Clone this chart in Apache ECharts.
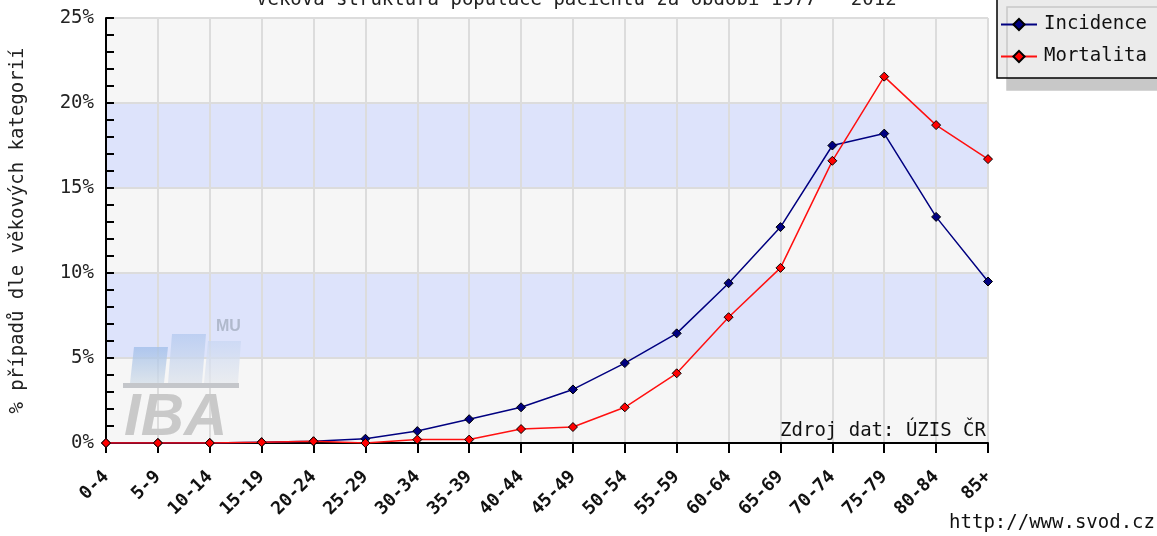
<!DOCTYPE html>
<html>
<head>
<meta charset="utf-8">
<script src="https://cdn.jsdelivr.net/npm/echarts@6/dist/echarts.min.js"></script>
<style>
html,body{margin:0;padding:0;background:#fff;}
#c{width:1157px;height:536px;}
</style>
</head>
<body>
<div id="c"></div>
<script>
const categories = ['0-4','5-9','10-14','15-19','20-24','25-29','30-34','35-39','40-44','45-49','50-54','55-59','60-64','65-69','70-74','75-79','80-84','85+'];
const incidence = [0, 0, 0, 0.05, 0.1, 0.25, 0.7, 1.4, 2.1, 3.15, 4.7, 6.45, 9.4, 12.7, 17.5, 18.2, 13.3, 9.5];
const mortalita = [0, 0, 0, 0.04, 0.1, 0, 0.2, 0.2, 0.82, 0.94, 2.1, 4.1, 7.4, 10.3, 16.6, 21.55, 18.7, 16.7];
const yTicks = [0, 5, 10, 15, 20, 25];

const FONT = '"DejaVu Sans Mono", "Liberation Mono", monospace';
const chart = echarts.init(document.getElementById('c'));
chart.setOption({
  backgroundColor: '#ffffff',
  animation: false,
  title: {
    text: 'Věková struktura populace pacientů za období 1977 - 2012',
    left: 256, top: -9,
    padding: 0,
    textStyle: { fontFamily: FONT, fontSize: 19, fontWeight: 'normal', color: '#222' }
  },
  legend: {
    left: 997, top: -5,
    orient: 'vertical',
    padding: [20, 40, 12, 3],
    itemGap: 13,
    itemWidth: 36, itemHeight: 14,
    backgroundColor: '#ebebeb',
    borderColor: '#000', borderWidth: 1.5,
    shadowColor: '#c8c8c8', shadowBlur: 0, shadowOffsetX: 10, shadowOffsetY: 12,
    textStyle: { fontFamily: FONT, fontSize: 19, color: '#111', padding: [0,0,0,2] },
    data: ['Incidence', 'Mortalita']
  },
  grid: { left: 106, right: 169, top: 18, bottom: 93, containLabel: false },
  xAxis: {
    type: 'category',
    data: categories,
    boundaryGap: false,
    axisLine: { show: true, lineStyle: { color: '#000', width: 2 } },
    axisTick: { show: true, length: 10, lineStyle: { color: '#000', width: 2 } },
    splitLine: { show: true, lineStyle: { color: '#dcdcdc', width: 2 } },
    axisLabel: { rotate: 45, margin: 31, fontFamily: FONT, fontSize: 18, fontWeight: 'bold', color: '#111', interval: 0 }
  },
  yAxis: {
    type: 'value',
    min: yTicks[0], max: yTicks[yTicks.length - 1], interval: 5,
    name: '% případů dle věkových kategorií',
    nameLocation: 'middle', nameGap: 78, nameRotate: 90,
    nameTextStyle: { fontFamily: FONT, fontSize: 19, color: '#222' },
    axisLine: { show: true, lineStyle: { color: '#000', width: 2 } },
    axisTick: { show: true, inside: true, length: 8, lineStyle: { color: '#000', width: 2 } },
    minorTick: { show: true, splitNumber: 5, length: 8, lineStyle: { color: '#000', width: 2 } },
    splitLine: { show: true, lineStyle: { color: '#dcdcdc', width: 2 } },
    splitArea: { show: true, areaStyle: { color: ['#f6f6f6', '#dde3fb'] } },
    axisLabel: { formatter: '{value}%', margin: 12, fontFamily: FONT, fontSize: 19, color: '#222' }
  },
  graphic: [
    { type: 'polygon', z: 1, shape: { points: [[134,347],[168,347],[164,383],[130,383]] },
      style: { fill: { type: 'linear', x: 0, y: 0, x2: 0, y2: 1, colorStops: [{offset:0,color:'#9fbde9'},{offset:1,color:'#d2dde8'}] }, opacity: 0.75 } },
    { type: 'polygon', z: 1, shape: { points: [[172,334],[206,334],[202,383],[168,383]] },
      style: { fill: { type: 'linear', x: 0, y: 0, x2: 0, y2: 1, colorStops: [{offset:0,color:'#b3c9ef'},{offset:1,color:'#dde3ec'}] }, opacity: 0.75 } },
    { type: 'polygon', z: 1, shape: { points: [[208,341],[241,341],[238,383],[204,383]] },
      style: { fill: { type: 'linear', x: 0, y: 0, x2: 0, y2: 1, colorStops: [{offset:0,color:'#c9d7f3'},{offset:1,color:'#e6e9ee'}] }, opacity: 0.75 } },
    { type: 'rect', z: 1, shape: { x: 123, y: 383, width: 116, height: 5 }, style: { fill: '#c4c6ca' } },
    { type: 'text', z: 1, left: 124, top: 388,
      style: { text: 'IBA', font: 'italic bold 60px "Liberation Sans", Arial, sans-serif', fill: '#c9c9c9' } },
    { type: 'text', z: 1, left: 216, top: 319,
      style: { text: 'MU', font: 'bold 16px "Liberation Sans", Arial, sans-serif', fill: '#b0b9cc' } },
    { type: 'text', z: 5, right: 171, top: 422,
      style: { text: 'Zdroj dat: ÚZIS ČR', font: '19px ' + FONT, fill: '#111' } },
    { type: 'text', z: 5, right: 2, top: 514,
      style: { text: 'http://www.svod.cz', font: '19px ' + FONT, fill: '#111' } }
  ],
  series: [
    {
      name: 'Incidence', type: 'line', data: incidence,
      symbol: 'diamond', symbolSize: 9, z: 3,
      lineStyle: { color: '#000080', width: 1.5 },
      itemStyle: { color: '#000080', borderColor: '#000', borderWidth: 1 }
    },
    {
      name: 'Mortalita', type: 'line', data: mortalita,
      symbol: 'diamond', symbolSize: 9, z: 4,
      lineStyle: { color: '#ff1010', width: 1.5 },
      itemStyle: { color: '#ff0000', borderColor: '#000', borderWidth: 1 }
    }
  ]
});
</script>
</body>
</html>
